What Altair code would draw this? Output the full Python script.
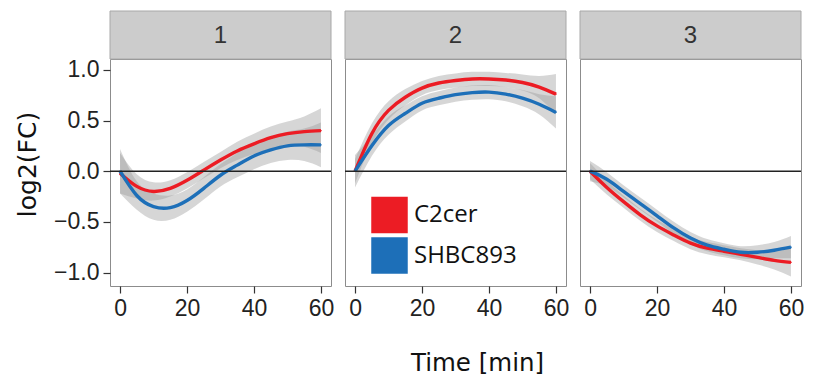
import altair as alt
import pandas as pd

# ---------------- data ----------------
time = [0, 5, 10, 15, 20, 25, 30, 35, 40, 45, 50, 55, 60]
panels = ["1", "2", "3"]
series_names = ["C2cer", "SHBC893"]
series_colors = ["#EC1C24", "#1D6FB8"]

# panel 1
p1_c2cer = [-0.02, -0.15, -0.20, -0.17, -0.09, 0.01, 0.11, 0.20, 0.27, 0.33, 0.37, 0.39, 0.40]
p1_shbc = [0.00, -0.24, -0.35, -0.36, -0.29, -0.17, -0.04, 0.06, 0.15, 0.21, 0.25, 0.26, 0.26]
p1_c2cer_se = [0.20, 0.12, 0.09, 0.08, 0.08, 0.08, 0.08, 0.09, 0.10, 0.11, 0.12, 0.15, 0.22]
p1_shbc_se = [0.22, 0.14, 0.13, 0.12, 0.11, 0.11, 0.11, 0.12, 0.13, 0.13, 0.14, 0.16, 0.22]

# panel 2
p2_c2cer = [0.00, 0.37, 0.60, 0.73, 0.82, 0.87, 0.895, 0.91, 0.91, 0.90, 0.875, 0.83, 0.76]
p2_shbc = [0.00, 0.25, 0.45, 0.57, 0.67, 0.72, 0.755, 0.775, 0.78, 0.76, 0.72, 0.66, 0.58]
p2_c2cer_se = [0.12, 0.10, 0.09, 0.08, 0.07, 0.07, 0.07, 0.07, 0.07, 0.07, 0.08, 0.11, 0.20]
p2_shbc_se = [0.16, 0.10, 0.09, 0.08, 0.07, 0.07, 0.07, 0.07, 0.07, 0.07, 0.08, 0.10, 0.16]

# panel 3
p3_c2cer = [0.00, -0.16, -0.30, -0.43, -0.54, -0.63, -0.71, -0.76, -0.79, -0.82, -0.85, -0.88, -0.90]
p3_shbc = [0.00, -0.08, -0.20, -0.32, -0.44, -0.56, -0.66, -0.73, -0.77, -0.80, -0.80, -0.78, -0.75]
p3_c2cer_se = [0.08, 0.07, 0.06, 0.06, 0.06, 0.06, 0.06, 0.06, 0.06, 0.06, 0.07, 0.09, 0.14]
p3_shbc_se = [0.10, 0.07, 0.06, 0.06, 0.06, 0.06, 0.06, 0.06, 0.06, 0.06, 0.07, 0.08, 0.11]

zero_line = [0.0]
x_ticks = [0, 20, 40, 60]
y_ticks = [-1.0, -0.5, 0.0, 0.5, 1.0]

panel_data = {
    "1": (p1_c2cer, p1_c2cer_se, p1_shbc, p1_shbc_se),
    "2": (p2_c2cer, p2_c2cer_se, p2_shbc, p2_shbc_se),
    "3": (p3_c2cer, p3_c2cer_se, p3_shbc, p3_shbc_se),
}

# ---------------- layout / style ----------------
W, H = 221, 227
HEADER = 48
XDOM = [-3, 63]
YDOM = [-1.133, 1.107]
INTERP = "natural"


def make_df(label):
    c2, c2se, sh, shse = panel_data[label]
    rows = []
    for name, vals, se in ((series_names[0], c2, c2se), (series_names[1], sh, shse)):
        for t, v, s in zip(time, vals, se):
            rows.append({"time": t, "series": name, "value": v,
                         "lower": v - s, "upper": v + s})
    return pd.DataFrame(rows)


def panel(label, first, middle):
    df = make_df(label)
    xscale = alt.Scale(domain=XDOM, nice=False, zero=False)
    yscale = alt.Scale(domain=YDOM, nice=False, zero=False)

    if middle:
        xaxis = alt.Axis(values=x_ticks, title="Time [min]", titleFontSize=24.5,
                         titleX=132, titleY=84, titleAlign="center",
                         titleBaseline="alphabetic", labelFlush=False)
    else:
        xaxis = alt.Axis(values=x_ticks, title=None, labelFlush=False)

    if first:
        yaxis = alt.Axis(values=y_ticks, format=".1f", title="log2(FC)",
                         titleFontSize=25, titleAngle=270, titleX=-83, titleY=105,
                         titleAlign="center", titleBaseline="middle")
    else:
        yaxis = None

    base = alt.Chart(df)
    band = base.mark_area(interpolate=INTERP, fill="#999999", opacity=0.4).encode(
        x=alt.X("time:Q", scale=xscale, axis=xaxis),
        y=alt.Y("lower:Q", scale=yscale, axis=yaxis),
        y2="upper:Q",
        detail="series:N",
    )

    if middle:
        legend = alt.Legend(title=None, orient="none", legendX=26, legendY=137.5,
                            symbolType="square", symbolSize=1332, symbolStrokeWidth=0,
                            symbolOpacity=1, labelFont="Open Sans", labelFontSize=24,
                            labelColor="#111", labelOffset=6, rowPadding=3.5, padding=0)
    else:
        legend = None

    color = alt.Color("series:N",
                      scale=alt.Scale(domain=series_names, range=series_colors),
                      legend=legend)

    # tiny filled squares hidden under the lines: they give the legend filled swatches
    keys = base.mark_point(filled=True, shape="square", size=2, opacity=1,
                           strokeWidth=0).encode(
        x=alt.X("time:Q", scale=xscale, axis=xaxis),
        y=alt.Y("value:Q", scale=yscale, axis=yaxis),
        color=color,
    )

    line = base.mark_line(interpolate=INTERP, strokeWidth=3.4).encode(
        x=alt.X("time:Q", scale=xscale, axis=xaxis),
        y=alt.Y("value:Q", scale=yscale, axis=yaxis),
        color=color,
    )

    zero = alt.Chart(pd.DataFrame({"y": zero_line})).mark_rule(
        color="#222222", strokeWidth=1.6).encode(y=alt.Y("y:Q", scale=yscale, axis=yaxis))

    lab = pd.DataFrame({"label": [label]})
    strip = alt.Chart(lab).mark_rect(fill="#CCCCCC", stroke="#A8A8A8", strokeWidth=1).encode(
        x=alt.value(0), x2=alt.value(W), y=alt.value(-HEADER), y2=alt.value(0))
    strip_text = alt.Chart(lab).mark_text(font="Liberation Sans", fontSize=24, color="#333333",
                                          baseline="middle", align="center").encode(
        x=alt.value(W / 2), y=alt.value(-HEADER / 2 + 1), text="label:N")

    return alt.layer(band, keys, line, zero, strip, strip_text).properties(width=W, height=H)


chart = alt.hconcat(
    panel("1", True, False),
    panel("2", False, True),
    panel("3", False, False),
    spacing=14,
    bounds="flush",
).resolve_scale(color="independent").properties(
    padding={"left": 6, "top": 2, "right": 0, "bottom": 0}
).configure_view(
    stroke="#8C8C8C", strokeWidth=1
).configure_axis(
    grid=False, domain=False, tickColor="#333333", tickWidth=1.2, tickSize=7,
    labelFont="Liberation Sans", labelFontSize=23, labelColor="#222222", labelPadding=4,
    titleFont="DejaVu Sans", titleFontWeight="normal", titleColor="#111111",
)

chart.save("out.html", embed_options={"renderer": "svg", "actions": False})
